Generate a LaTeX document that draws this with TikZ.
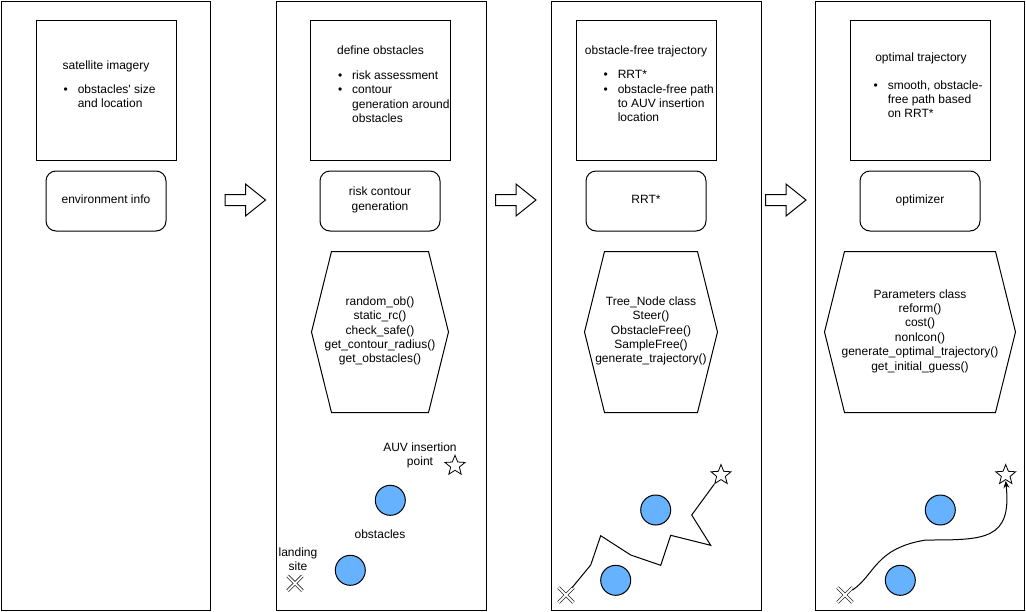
\documentclass[tikz,border=0pt]{standalone}
\usepackage{fontspec}
\setmainfont{Liberation Sans}
\usetikzlibrary{positioning,shapes.geometric,shapes.misc,arrows.meta}
\definecolor{obstblue}{HTML}{66B2FF}
\newcommand{\itm}{\llap{\textbullet\hspace{10pt}}}
\newcommand{\hexoutline}[1]{%
  \draw ([xshift=20pt]#1.north west) -- ([xshift=-20pt]#1.north east) -- (#1.east)
    -- ([xshift=-20pt]#1.south east) -- ([xshift=20pt]#1.south west) -- (#1.west) -- cycle;}
\tikzset{
  lbl/.style={inner sep=0pt, font=\fontsize{12}{14.4}\selectfont,
    execute at begin node=\strut, execute at end node=\strut},
  box/.style={draw, minimum width=140pt, minimum height=140pt, inner sep=0pt},
  rbox/.style={lbl, draw, rounded corners=10pt, align=center,
    minimum width=120pt, minimum height=60pt},
  hexa/.style={lbl, align=center, minimum height=160pt},
  obst/.style={circle, draw, fill=obstblue, minimum size=30pt, inner sep=0pt},
  goal/.style={star, star points=5, star point ratio=2.3, draw, fill=white,
    line width=0.8pt, minimum size=21pt, inner sep=0pt},
  landing/.style={cross out, draw=black!85, double, double distance=1.8pt,
    line width=0.8pt, minimum size=14pt, inner sep=0pt},
  stagearrow/.pic={\draw (0,-5.5) -- (20.5,-5.5) -- (20.5,-16) -- (40.5,0)
    -- (20.5,16) -- (20.5,5.5) -- (0,5.5) -- cycle;}
}

\begin{document}
\begin{tikzpicture}[x=1pt,y=-1pt,line width=1pt,>={Stealth[length=7pt,width=6pt]}]
  \useasboundingbox (0,0) rectangle (1026,611);
  % the four stages
  \draw (1,1) rectangle (210,610);
  \draw (276,1) rectangle (486,610);
  \draw (551,1) rectangle (761,610);
  \draw (815,1) rectangle (1024,610);
  \pic at (225,200) {stagearrow};
  \pic at (495.5,200) {stagearrow};
  \pic at (765.5,200) {stagearrow};

  % stage 1: environment
  \node[box] (sat) at (106,90) {};
  \node[lbl, anchor=base] (satT) at (106,69) {satellite imagery};
  \node[lbl, anchor=north west, align=left] (satL) at (77.3,84)
    {\itm obstacles\textquotesingle{} size\\and location};
  \node[rbox, below=10pt of sat] (env) {environment info};

  % stage 2: risk contours
  \node[box] (obs) at (380,90) {};
  \node[lbl, anchor=base] (obsT) at (380.5,54) {define obstacles};
  \node[lbl, anchor=north west, align=left] (obsL) at (351.7,70)
    {\itm risk assessment\\\itm contour\\generation around\\obstacles};
  \node[rbox, below=10pt of obs] (rcg) {risk contour\\generation};
  \node[hexa, minimum width=136pt, below=20pt of rcg] (hexA)
    {random\_ob()\\static\_rc()\\check\_safe()\\get\_contour\_radius()\\get\_obstacles()};
  \hexoutline{hexA}
  \node[obst] (ob2a) at (390.3,500.3) {};
  \node[obst] (ob2b) at (350.3,570.3) {};
  \node[goal] (st2) at (455,465.7) {};
  \node[landing] (lx2) at (295,583.3) {};
  \node[lbl, align=center] (auv) at (420,456.6) {AUV insertion\\point};
  \node[lbl] (obsN) at (380,535.4) {obstacles};
  \node[lbl, align=center] (land) at (298,561.6) {landing\\site};

  % stage 3: RRT*
  \node[box] (rrtB) at (646,90) {};
  \node[lbl, anchor=base] (rrtT) at (646,54) {obstacle-free trajectory};
  \node[lbl, anchor=north west, align=left] (rrtL) at (617.3,70)
    {\itm RRT*\\\itm obstacle-free path\\to AUV insertion\\location};
  \node[rbox, below=10pt of rrtB] (rrt) {RRT*};
  \node[hexa, minimum width=132pt, below=20pt of rrt, xshift=5pt] (hexB)
    {Tree\_Node class\\Steer()\\ObstacleFree()\\SampleFree()\\generate\_trajectory()};
  \hexoutline{hexB}
  \node[obst] (ob3a) at (655.7,510) {};
  \node[obst] (ob3b) at (615.7,580.3) {};
  \node[goal] (st3) at (721,475) {};
  \node[landing] (lx3) at (566,595) {};
  \draw (lx3) -- (590.7,565) -- (600.7,535.7) -- (630.7,555) -- (660.7,565.3)
    -- (670.7,535.3) -- (710.7,545.3) -- (691.7,515) -- (st3);

  % stage 4: optimizer
  \node[box] (optB) at (920,90) {};
  \node[lbl, anchor=base] (optT) at (921,61.3) {optimal trajectory};
  \node[lbl, anchor=north west, align=left] (optL) at (887.3,80)
    {\itm smooth, obstacle-\\free path based\\on RRT*};
  \node[rbox, below=10pt of optB] (opt) {optimizer};
  \node[hexa, minimum width=190pt, below=20pt of opt] (hexC)
    {Parameters class\\reform()\\cost()\\nonlcon()\\generate\_optimal\_trajectory()\\get\_initial\_guess()};
  \hexoutline{hexC}
  \node[obst] (ob4a) at (940.3,510) {};
  \node[obst] (ob4b) at (900.3,580.3) {};
  \node[goal] (st4) at (1005.7,475) {};
  \node[landing] (lx4) at (845,595) {};
  \draw[->] (lx4) .. controls (875,575) and (875,548) .. (926,540)
    .. controls (985,540) and (1012,540) .. ([yshift=-6pt]st4.center);
\end{tikzpicture}
\end{document}
